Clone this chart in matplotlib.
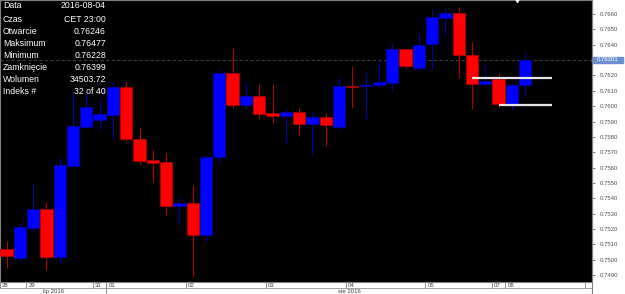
import numpy as np
import matplotlib.pyplot as plt
import matplotlib.transforms as mtransforms
from matplotlib.patches import Rectangle
from matplotlib.lines import Line2D

# OHLC values of the 40 candles
opens = [0.75069, 0.75013, 0.75204, 0.75332, 0.75015, 0.75612, 0.75862, 0.75909,
         0.75942, 0.76126, 0.75786, 0.75647, 0.75634, 0.75351, 0.75369, 0.75160,
         0.75669, 0.76216, 0.76005, 0.76066, 0.75953, 0.75937, 0.75962, 0.75883,
         0.75927, 0.75864, 0.76133, 0.76131, 0.76137, 0.76152, 0.76370, 0.76246,
         0.76402, 0.76576, 0.76606, 0.76335, 0.76146, 0.76178, 0.76016, 0.76137]
highs = [0.75123, 0.75241, 0.75501, 0.75377, 0.75664, 0.76087, 0.76083, 0.76040,
         0.76159, 0.76155, 0.75866, 0.75714, 0.75693, 0.75403, 0.75486, 0.75682,
         0.76240, 0.76380, 0.76152, 0.76144, 0.76144, 0.75979, 0.75990, 0.75962,
         0.75957, 0.76188, 0.76263, 0.76224, 0.76300, 0.76409, 0.76370, 0.76477,
         0.76630, 0.76639, 0.76647, 0.76418, 0.76274, 0.76216, 0.76150, 0.76352]
lows = [0.74944, 0.74987, 0.75182, 0.74933, 0.74980, 0.75612, 0.75855, 0.75844,
        0.75784, 0.75768, 0.75623, 0.75508, 0.75291, 0.75232, 0.74889, 0.75123,
        0.75638, 0.75990, 0.75979, 0.75914, 0.75892, 0.75758, 0.75805, 0.75682,
        0.75742, 0.75838, 0.75990, 0.75914, 0.76122, 0.76105, 0.76250, 0.76228,
        0.76235, 0.76463, 0.76181, 0.75979, 0.76126, 0.75996, 0.75975, 0.76072]
closes = [0.75024, 0.75211, 0.75328, 0.75015, 0.75618, 0.75872, 0.75992, 0.75949,
          0.76126, 0.75786, 0.75644, 0.75631, 0.75351, 0.75371, 0.75160, 0.75669,
          0.76216, 0.76005, 0.76066, 0.75951, 0.75937, 0.75960, 0.75883, 0.75927,
          0.75877, 0.76133, 0.76124, 0.76137, 0.76157, 0.76370, 0.76261, 0.76399,
          0.76578, 0.76606, 0.76333, 0.76146, 0.76162, 0.76016, 0.76137, 0.76301]

current_price = 0.76301
# white horizontal levels: (price, from candle, to candle)
level_prices = [0.76183, 0.76009]
level_start = [35, 37]
level_end = [41, 41]

# day labels and the candle where each day starts (last day has its label cut off)
day_labels = ['28', '29', '31', '01', '02', '03', '04', '05', '07', '08', '']
day_start = [0, 2, 7, 8, 14, 20, 26, 32, 37, 38, 44]
month_labels = ['lip 2016', 'sie 2016']
month_start = [0, 8]

# info box in the top left corner
info_names = ['Data', 'Czas', 'Otwarcie', 'Maksimum', 'Minimum',
              'Zamknięcie', 'Wolumen', 'Indeks #']
info_values = ['2016-08-04', 'CET 23:00', '0.76246', '0.76477', '0.76228',
               '0.76399', '34503.72', '32 of 40']

plt.rcParams['font.family'] = ['Liberation Sans', 'DejaVu Sans']

W, H = 625, 294
px_right = 591.7   # right edge of the price area
px_bottom = 282.3  # bottom edge of the price area

fig = plt.figure(figsize=(W / 100, H / 100), dpi=100)
fig.patch.set_facecolor('white')
ax = fig.add_axes([0, (H - px_bottom) / H, px_right / W, px_bottom / H])
ax.set_facecolor('black')

n = len(opens)
x = np.arange(n)
o = np.array(opens)
c = np.array(closes)
up = c >= o
body_col = np.where(up, '#0000ff', '#ff0000')
wick_col = np.where(up, '#0000a8', '#b00000')

# wicks then bodies
ax.vlines(x, lows, highs, colors=wick_col, linewidth=0.8, zorder=2)
body_h = np.maximum(np.abs(c - o), 0.00008)
ax.bar(x, body_h, bottom=np.minimum(o, c), width=0.93, color=body_col,
       edgecolor=wick_col, linewidth=0.5, zorder=3)

ax.set_xlim(-0.49, 44.0)
ax.set_ylim(0.748533, 0.766911)

# current price line
ax.axhline(current_price, color='#3a3a3a', linestyle=(0, (3, 2)), linewidth=0.8, zorder=1)
ax.hlines(level_prices, level_start, level_end, colors='#e6e6e6', linewidth=1.6, zorder=4)

# small marker at the top edge
ax.plot([38.4], [0.766911], marker='v', color='white', markersize=3,
        clip_on=False, zorder=5)

# price axis on the right
yt = [round(0.749 + 0.001 * k, 4) for k in range(18)]
yt = [t for t in yt if abs(t - 0.763) > 1e-6]
ax.yaxis.tick_right()
ax.set_yticks(yt)
ax.set_yticklabels(['%.4f' % t for t in yt])
ax.tick_params(axis='y', direction='out', length=2.5, width=0.6, color='#707070',
               labelsize=4.3, labelcolor='#505050', pad=3)
ax.set_xticks([])
for s in ax.spines.values():
    s.set_color('#808080')
    s.set_linewidth(0.8)

blend = mtransforms.blended_transform_factory(ax.transAxes, ax.transData)
box_h = 6.6 * (0.766911 - 0.748533) / px_bottom
ax.add_patch(Rectangle((1.001, current_price - box_h / 2), 0.0524, box_h,
                       transform=blend, color='#6b8fcf', clip_on=False, zorder=6))
ax.text(1.0272, current_price, '%.5f' % current_price, transform=blend,
        ha='center', va='center', fontsize=4.3, color='white', zorder=7)

# info text
row_y = [6, 20, 32, 44, 55.5, 67, 79.5, 91.5]
for name, val, ry in zip(info_names, info_values, row_y):
    fig.text(3 / W, 1 - ry / H, name, ha='left', va='center', fontsize=6.3, color='white')
    fig.text(106 / W, 1 - ry / H, val, ha='right', va='center', fontsize=6.3, color='white')

# bottom time axis
axb = fig.add_axes([0, 0, px_right / W, (H - px_bottom) / H], sharex=ax)
axb.set_facecolor('white')
axb.set_ylim(0, H - px_bottom)
axb.axis('off')
row = (H - px_bottom) / 2
axb.axhline(row, color='#909090', linewidth=0.6)
lab_off = mtransforms.offset_copy(axb.transData, fig, x=2, units='dots')
for lab, st in zip(day_labels, day_start):
    axb.vlines(st - 0.5, row, H - px_bottom, color='#808080', linewidth=0.6)
    axb.text(st - 0.5, row * 1.5, lab, transform=lab_off, ha='left', va='center',
             fontsize=4.3, color='#404040', clip_on=True)
xl = ax.get_xlim()
bounds = [s - 0.5 for s in month_start] + [xl[1]]
for k, lab in enumerate(month_labels):
    lo = max(bounds[k], xl[0])
    hi = bounds[k + 1]
    if k > 0:
        axb.vlines(lo, 0, H - px_bottom, color='#808080', linewidth=0.6)
    axb.text((lo + hi) / 2, row / 2, lab, ha='center', va='center',
             fontsize=4.3, color='#404040')

# separator between price axis panel and chart
fig.add_artist(Line2D([px_right / W, px_right / W], [0, 1], color='#808080', linewidth=0.8))

fig.savefig('out.png', dpi=100)
